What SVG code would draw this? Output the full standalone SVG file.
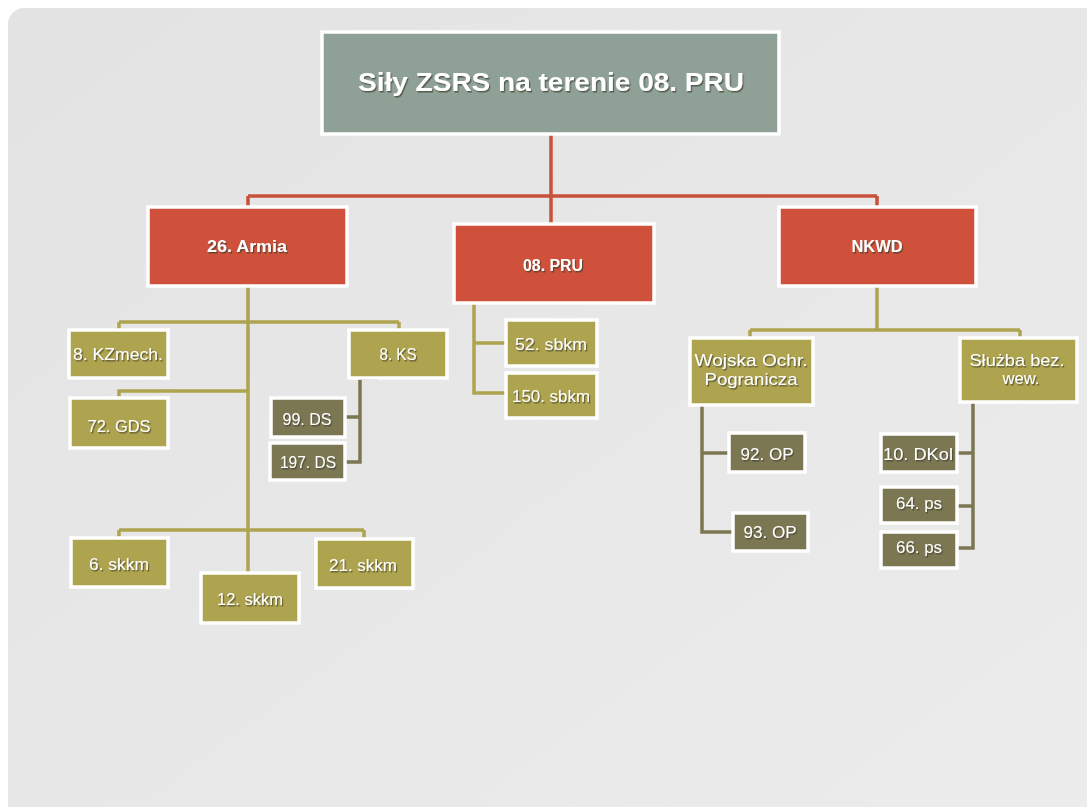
<svg xmlns="http://www.w3.org/2000/svg" width="1087" height="807" viewBox="0 0 1087 807">
<defs>
<linearGradient id="bg" x1="0" y1="0" x2="1" y2="1">
<stop offset="0" stop-color="#e3e3e3"/>
<stop offset="1" stop-color="#ececec"/>
</linearGradient>
<filter id="sh" x="-10%" y="-30%" width="120%" height="160%">
<feDropShadow dx="1.2" dy="1.5" stdDeviation="0.6" flood-color="#3a3a2a" flood-opacity="0.7"/>
</filter>
</defs>
<style>
.box{stroke:#ffffff;stroke-width:3.5}
.title{fill:#8fa196}
.red{fill:#d0513b}
.olv{fill:#aea44f}
.dk{fill:#7c7753}
text{font-family:"Liberation Sans",Arial,sans-serif;fill:#ffffff;text-anchor:middle;filter:url(#sh)}
.tt{font-size:25px;font-weight:bold}
.rt{font-size:16px;font-weight:bold}
.ot{font-size:17px}
.cr{stroke:#c9503a;stroke-width:3.5;fill:none}
.co{stroke:#aea44f;stroke-width:3.5;fill:none}
.cd{stroke:#7c7753;stroke-width:3.5;fill:none}
</style>
<rect x="0" y="0" width="1087" height="807" fill="#ffffff"/>
<rect x="8" y="8" width="1100" height="820" rx="16" fill="url(#bg)"/>

<g id="connectors">
<path class="cr" d="M551 134 V196 M248 196 H877 M248 196 V207 M877 196 V207 M551 196 V224"/>
<path class="co" d="M248 286 V572 M119 322 H399 M119 322 V330 M399 322 V330 M248 391 H119 V398 M119 530 H364 M119 530 V538 M364 530 V539"/>
<path class="cd" d="M378 378 H360 V462 H346 M360 417 H346"/>
<path class="co" d="M474 303 V393 H506 M474 343 H506"/>
<path class="co" d="M877 286 V330 M750 330 H1020 M750 330 V338 M1020 330 V338"/>
<path class="cd" d="M702 405 V532 H733 M702 453 H729"/>
<path class="cd" d="M973 402 V548 H957 M973 453 H957 M973 506 H957"/>
</g>

<g id="title"><rect class="box title" x="322" y="32" width="457" height="102"/><text class="tt" x="551" y="91" textLength="386" lengthAdjust="spacingAndGlyphs">Siły ZSRS na terenie 08. PRU</text></g>

<g id="armia26"><rect class="box red" x="148" y="207" width="199" height="79"/><text class="rt" x="247" y="252" textLength="80" lengthAdjust="spacingAndGlyphs">26. Armia</text></g>
<g id="pru08"><rect class="box red" x="454" y="224" width="200" height="79"/><text class="rt" x="553" y="271" textLength="60" lengthAdjust="spacingAndGlyphs">08. PRU</text></g>
<g id="nkwd"><rect class="box red" x="779" y="207" width="197" height="79"/><text class="rt" x="877" y="252" textLength="51" lengthAdjust="spacingAndGlyphs">NKWD</text></g>

<g id="kzmech8"><rect class="box olv" x="69" y="330" width="99" height="48"/><text class="ot" x="118" y="360" textLength="90" lengthAdjust="spacingAndGlyphs">8. KZmech.</text></g>
<g id="ks8"><rect class="box olv" x="349" y="330" width="98" height="48"/><text class="ot" x="398" y="360" textLength="37" lengthAdjust="spacingAndGlyphs">8. KS</text></g>
<g id="gds72"><rect class="box olv" x="70" y="398" width="98" height="50"/><text class="ot" x="119" y="432" textLength="63" lengthAdjust="spacingAndGlyphs">72. GDS</text></g>
<g id="ds99"><rect class="box dk" x="271" y="398" width="74" height="39"/><text class="ot" x="307" y="425" textLength="49" lengthAdjust="spacingAndGlyphs">99. DS</text></g>
<g id="ds197"><rect class="box dk" x="270" y="443" width="75" height="37"/><text class="ot" x="308" y="468" textLength="56" lengthAdjust="spacingAndGlyphs">197. DS</text></g>
<g id="skkm6"><rect class="box olv" x="71" y="538" width="97" height="49"/><text class="ot" x="119" y="570" textLength="60" lengthAdjust="spacingAndGlyphs">6. skkm</text></g>
<g id="skkm12"><rect class="box olv" x="201" y="573" width="98" height="50"/><text class="ot" x="250" y="605" textLength="66" lengthAdjust="spacingAndGlyphs">12. skkm</text></g>
<g id="skkm21"><rect class="box olv" x="316" y="539" width="97" height="49"/><text class="ot" x="363" y="571" textLength="68" lengthAdjust="spacingAndGlyphs">21. skkm</text></g>

<g id="sbkm52"><rect class="box olv" x="506" y="320" width="91" height="46"/><text class="ot" x="551" y="350" textLength="72" lengthAdjust="spacingAndGlyphs">52. sbkm</text></g>
<g id="sbkm150"><rect class="box olv" x="506" y="373" width="91" height="45"/><text class="ot" x="551" y="402" textLength="78" lengthAdjust="spacingAndGlyphs">150. sbkm</text></g>

<g id="wop"><rect class="box olv" x="690" y="338" width="123" height="67"/><text class="ot" x="751" y="366" textLength="113" lengthAdjust="spacingAndGlyphs">Wojska Ochr.</text><text class="ot" x="751" y="385" textLength="93" lengthAdjust="spacingAndGlyphs">Pogranicza</text></g>
<g id="sbw"><rect class="box olv" x="960" y="338" width="117" height="64"/><text class="ot" x="1017" y="366" textLength="95" lengthAdjust="spacingAndGlyphs">Służba bez.</text><text class="ot" x="1021" y="384" textLength="37" lengthAdjust="spacingAndGlyphs">wew.</text></g>
<g id="op92"><rect class="box dk" x="729" y="433" width="76" height="39"/><text class="ot" x="767" y="460" textLength="53" lengthAdjust="spacingAndGlyphs">92. OP</text></g>
<g id="op93"><rect class="box dk" x="733" y="513" width="75" height="38"/><text class="ot" x="770" y="538" textLength="53" lengthAdjust="spacingAndGlyphs">93. OP</text></g>
<g id="dkol10"><rect class="box dk" x="881" y="434" width="76" height="38"/><text class="ot" x="918" y="460" textLength="70" lengthAdjust="spacingAndGlyphs">10. DKol</text></g>
<g id="ps64"><rect class="box dk" x="881" y="487" width="76" height="36"/><text class="ot" x="919" y="509" textLength="46" lengthAdjust="spacingAndGlyphs">64. ps</text></g>
<g id="ps66"><rect class="box dk" x="881" y="532" width="76" height="36"/><text class="ot" x="919" y="553" textLength="46" lengthAdjust="spacingAndGlyphs">66. ps</text></g>
</svg>
